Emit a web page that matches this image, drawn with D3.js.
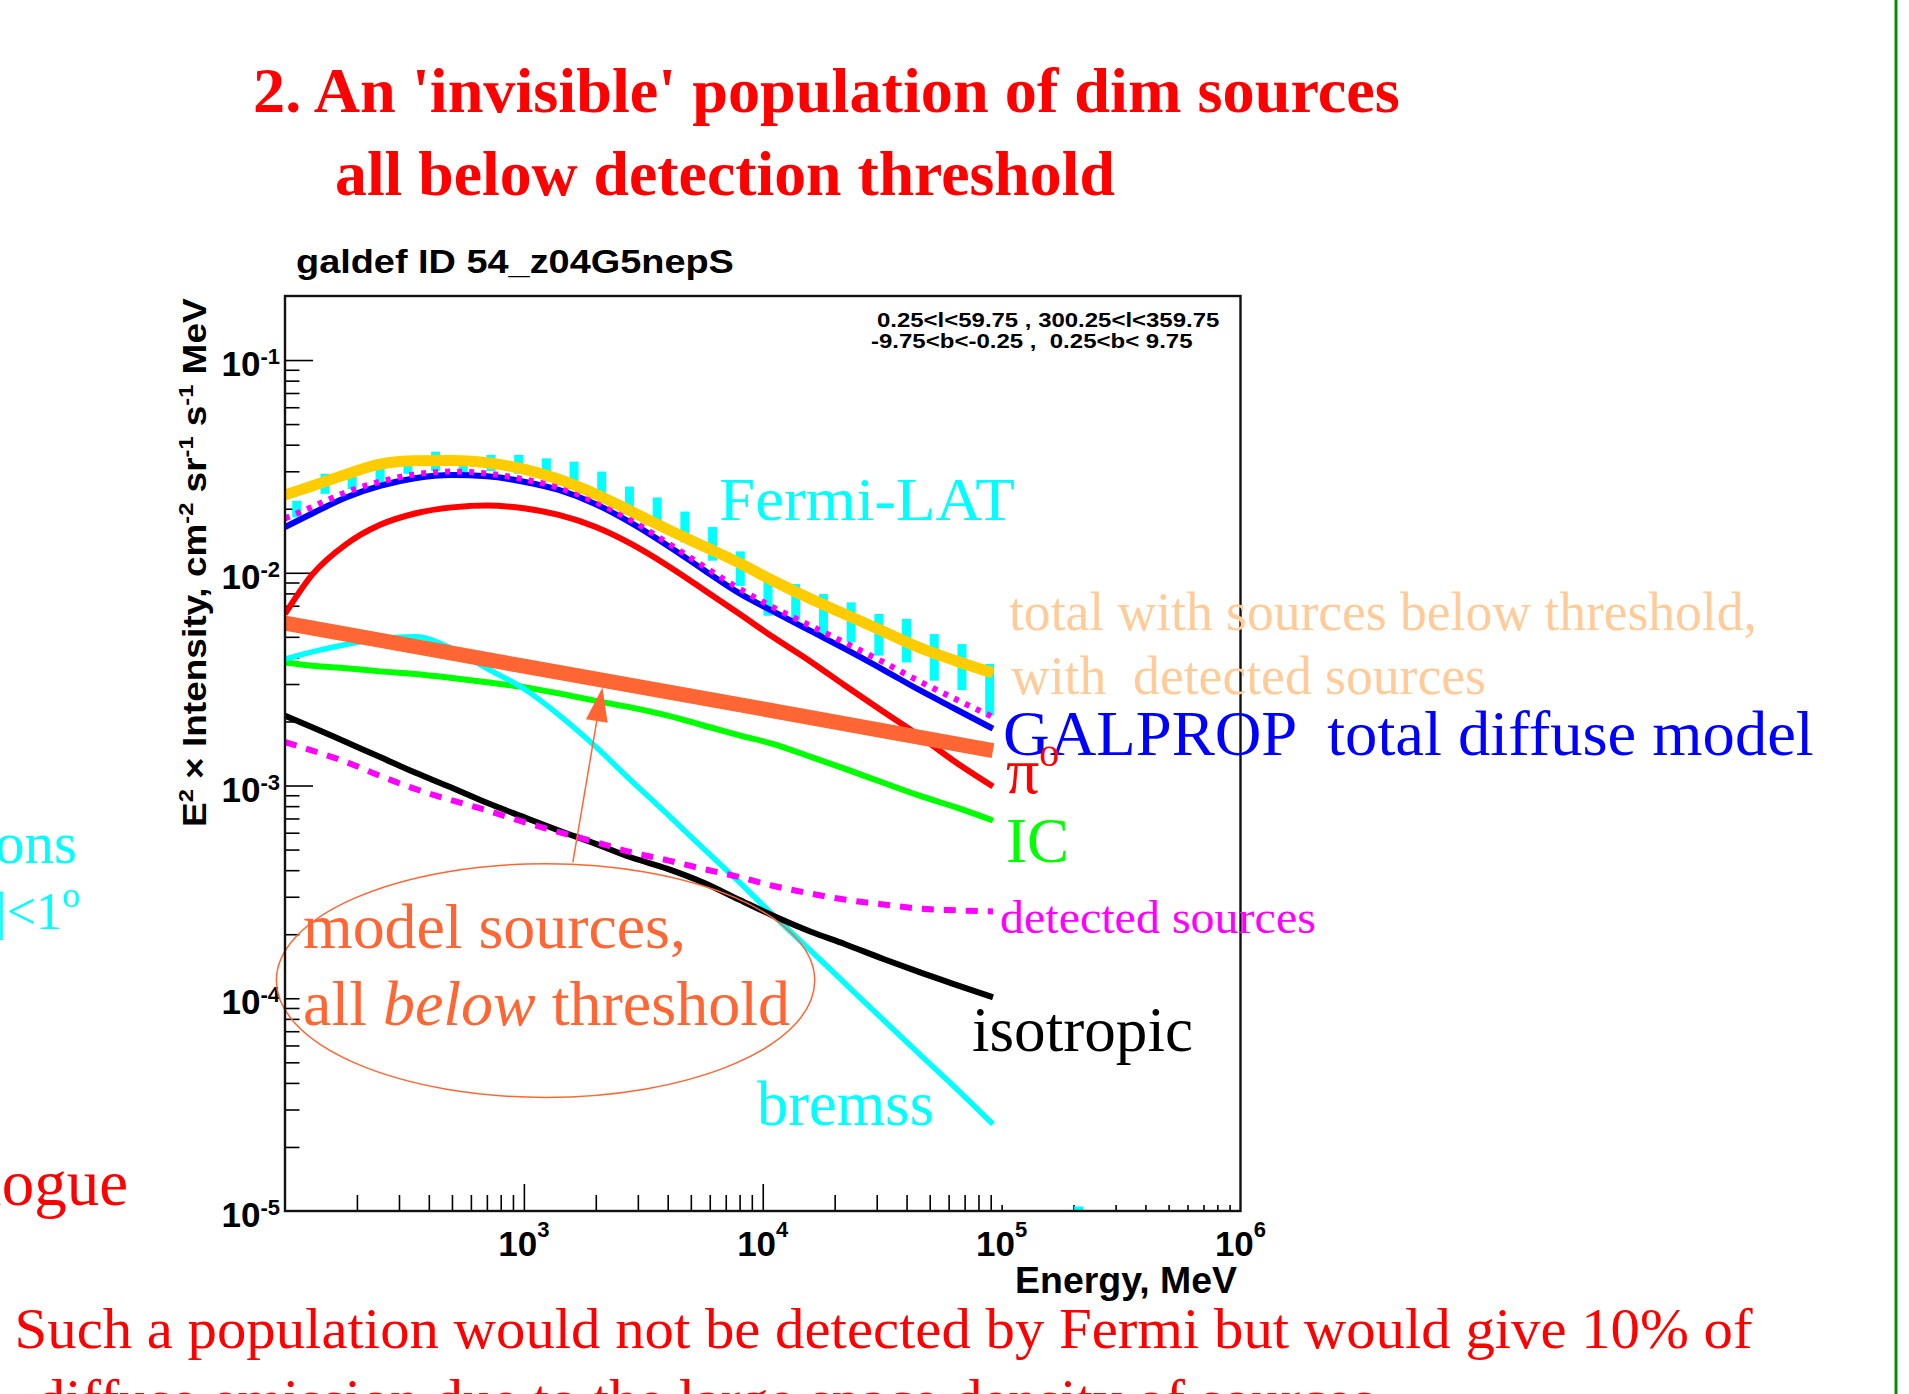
<!DOCTYPE html>
<html>
<head>
<meta charset="utf-8">
<title>galdef ID 54_z04G5nepS</title>
<script src="https://cdn.jsdelivr.net/npm/d3@7/dist/d3.min.js"></script>
<style>
  html, body { margin: 0; padding: 0; background: #ffffff; }
  svg { display: block; }
  text { white-space: pre; }
</style>
</head>
<body>
<svg id="slide" width="1909" height="1394"></svg>
<script>
// ---------------------------------------------------------------------------
// Spectra: E^2 x intensity (cm^-2 sr^-1 s^-1 MeV) versus energy (MeV)
// ---------------------------------------------------------------------------
const energies = [100, 130, 180, 250, 350, 500, 700, 1000, 1400, 2000, 2800,
                  4000, 5600, 8000, 11000, 16000, 22000, 32000, 45000, 64000, 92000];

// total with sources below threshold, with detected sources
const totalWithSources = [0.0232, 0.0256, 0.0290, 0.0324, 0.0336, 0.0337, 0.0329, 0.0307, 0.0275, 0.0234, 0.0195,
                          0.0160, 0.0134, 0.0111, 0.0092, 0.0075, 0.0064, 0.0053, 0.00446, 0.00386, 0.00338];
// GALPROP total plus detected sources
const totalWithDetected = [0.0180, 0.0204, 0.0239, 0.0268, 0.0290, 0.0299, 0.0293, 0.0275, 0.0251, 0.0215, 0.0177,
                           0.0138, 0.0108, 0.0084, 0.0069, 0.0056, 0.0047, 0.0038, 0.0031, 0.00255, 0.0021];
// GALPROP total diffuse model
const galpropTotal = [0.0164, 0.0190, 0.0226, 0.0256, 0.0278, 0.0288, 0.0284, 0.0268, 0.0245, 0.0210, 0.0172,
                      0.0134, 0.0104, 0.0080, 0.0066, 0.0053, 0.0044, 0.0035, 0.00282, 0.00229, 0.00185];
const pi0 = [0.0064, 0.0098, 0.0136, 0.0168, 0.0190, 0.0203, 0.0207, 0.0201, 0.0187, 0.0164, 0.0137,
             0.0108, 0.0084, 0.0064, 0.0050, 0.0038, 0.00296, 0.00222, 0.00172, 0.00129, 0.00099];
const inverseCompton = [0.00379, 0.00366, 0.00356, 0.00344, 0.00334, 0.00320, 0.00306, 0.00290, 0.00271, 0.00250, 0.00233,
                        0.00213, 0.00192, 0.00172, 0.00157, 0.00136, 0.00120, 0.00103, 0.000898, 0.000791, 0.000685];
const bremsstrahlung = [0.00393, 0.00425, 0.00460, 0.00490, 0.00500, 0.00440, 0.00355, 0.00285, 0.00215, 0.00152, 0.00106,
                        0.00073, 0.00051, 0.00035, 0.000247, 0.000166, 0.000118, 0.000079, 0.000055, 0.000038, 0.0000256];
const isotropic = [0.00213, 0.00188, 0.00160, 0.00136, 0.00115, 0.000975, 0.000829, 0.000710, 0.000615, 0.000532, 0.000460,
                   0.000406, 0.000351, 0.000290, 0.000245, 0.000205, 0.000180, 0.000153, 0.000133, 0.000116, 0.000101];
const detectedSources = [0.00160, 0.00146, 0.00129, 0.00111, 0.000964, 0.000851, 0.000764, 0.000673, 0.000604, 0.000542, 0.000486,
                         0.000445, 0.000406, 0.000371, 0.000338, 0.000310, 0.000291, 0.000276, 0.000264, 0.000259, 0.000256];

// unresolved model source population (a power law)
const modelSourceEnergies = [100, 1000, 10000, 92000];
const modelSources = [0.0058, 0.00364, 0.00229, 0.00146];

// Fermi-LAT spectrum: bin energies and error-bar limits
const fermiEnergies = [112, 147, 191, 250, 327, 427, 557, 728, 951, 1242, 1622, 2118, 2767, 3614, 4721, 6166,
                       8054, 10520, 13740, 17950, 23440, 30620, 39990, 52240, 68230, 89130, 210000];
const fermiLow  = [0.0182, 0.0235, 0.0247, 0.0265, 0.0292, 0.0301, 0.0281, 0.0301, 0.0292, 0.0275, 0.0251, 0.0222,
                   0.0189, 0.0169, 0.0139, 0.0114, 0.00868, 0.00628, 0.00595, 0.00515, 0.00471, 0.00408, 0.00379,
                   0.00311, 0.00281, 0.00213, 0.0000085];
const fermiHigh = [0.0218, 0.0292, 0.0300, 0.0320, 0.0351, 0.0371, 0.0340, 0.0358, 0.0358, 0.0345, 0.0333, 0.0299,
                   0.0254, 0.0226, 0.0194, 0.0164, 0.0126, 0.00950, 0.00885, 0.00794, 0.00726, 0.00640, 0.00607,
                   0.00515, 0.00462, 0.00373, 0.0000105];

// axis decades and their exponent labels
const xDecades = [1e3, 1e4, 1e5, 1e6];
const xExponents = ["3", "4", "5", "6"];
const yDecades = [1e-1, 1e-2, 1e-3, 1e-4, 1e-5];
const yExponents = ["-1", "-2", "-3", "-4", "-5"];

// ---------------------------------------------------------------------------
const W = 1909, H = 1394;
const SERIF = "'Liberation Serif','Times New Roman',Times,serif";
const SANS = "'Liberation Sans',Arial,Helvetica,sans-serif";
const plot = { left: 285, right: 1240.5, top: 296, bottom: 1211 };

const x = d3.scaleLog().domain([100, 1e6]).range([plot.left, plot.right]);
const y = d3.scaleLog().domain([1e-5, 0.2]).range([plot.bottom, plot.top]);

const svg = d3.select("#slide");
svg.append("rect").attr("width", W).attr("height", H).attr("fill", "#ffffff");

svg.append("defs").append("clipPath").attr("id", "plotClip")
  .append("rect")
  .attr("x", plot.left).attr("y", plot.top)
  .attr("width", plot.right - plot.left).attr("height", plot.bottom - plot.top);

// text helper: parts may carry superscripts / italics; optional width fits the run
function addText(parent, cfg) {
  const g = parent.append("g")
    .attr("transform", `translate(${cfg.x},${cfg.y})${cfg.rotate ? ` rotate(${cfg.rotate})` : ""}`);
  const t = g.append("text")
    .attr("font-family", cfg.family || SERIF)
    .attr("font-size", cfg.size)
    .attr("font-weight", cfg.weight || "normal")
    .attr("fill", cfg.fill || "#000")
    .attr("text-anchor", cfg.anchor || "start");
  const parts = typeof cfg.text === "string" ? [{ t: cfg.text }] : cfg.text;
  let shift = 0;
  parts.forEach(p => {
    const ts = t.append("tspan").text(p.t);
    const want = p.sup ? -(cfg.supRise ?? cfg.size * 0.4) : 0;
    if (want !== shift) { ts.attr("dy", want - shift); shift = want; }
    if (p.sup) ts.attr("font-size", cfg.supSize ?? cfg.size * 0.62);
    if (p.italic) ts.attr("font-style", "italic");
  });
  if (cfg.width) {
    const w = t.node().getBBox().width;
    if (w > 0) t.attr("transform", `scale(${cfg.width / w},1)`);
  }
  return t;
}

// ---------------------------------------------------------------------------
// slide headings
addText(svg, { x: 253, y: 112, size: 64, weight: "bold", fill: "#ff0000",
  text: "2. An 'invisible' population of dim sources", width: 1147 });
addText(svg, { x: 335, y: 195, size: 64, weight: "bold", fill: "#ff0000",
  text: "all below detection threshold", width: 780 });

// plot title and sky region
addText(svg, { x: 296, y: 273, size: 33, weight: "bold", family: SANS, text: "galdef ID 54_z04G5nepS", width: 438 });
addText(svg, { x: 877, y: 327, size: 21, weight: "bold", family: SANS,
  text: "0.25<l<59.75 , 300.25<l<359.75", width: 343 });
addText(svg, { x: 871, y: 348, size: 21, weight: "bold", family: SANS,
  text: "-9.75<b<-0.25 ,  0.25<b< 9.75", width: 322 });

// ---------------------------------------------------------------------------
// axes (ticks point into the frame)
function tickGroup(axis, transform) {
  svg.append("g").attr("transform", transform).call(axis)
    .call(g => g.select(".domain").remove())
    .call(g => g.selectAll("line").attr("stroke", "#000").attr("stroke-width", 1.6));
}
const yMinor = [];
for (let p = -5; p <= -1; p++) for (let m = 2; m <= 9; m++) { const v = m * Math.pow(10, p); if (v < 0.2) yMinor.push(v); }
tickGroup(d3.axisLeft(y).tickValues(yMinor.concat([1e-4])).tickSize(-14.5).tickSizeOuter(0).tickFormat(""),
  `translate(${plot.left},0)`);
tickGroup(d3.axisLeft(y).tickValues([1e-1, 1e-2, 1e-3]).tickSize(-28).tickSizeOuter(0).tickFormat(""),
  `translate(${plot.left},0)`);

const xMid = [], xShort = [];
for (let p = 2; p <= 4; p++) for (let m = 2; m <= 9; m++) xMid.push(m * Math.pow(10, p));
for (let m = 1; m <= 9; m++) xShort.push(m * 1e5);
tickGroup(d3.axisBottom(x).tickValues(xMid).tickSize(-16).tickSizeOuter(0).tickFormat(""),
  `translate(0,${plot.bottom})`);
tickGroup(d3.axisBottom(x).tickValues(xShort).tickSize(-6).tickSizeOuter(0).tickFormat(""),
  `translate(0,${plot.bottom})`);
tickGroup(d3.axisBottom(x).tickValues([1e3, 1e4]).tickSize(-27).tickSizeOuter(0).tickFormat(""),
  `translate(0,${plot.bottom})`);

// decade labels
yDecades.forEach((v, i) => addText(svg, {
  x: 280, y: y(v) + 16, size: 35, weight: "bold", family: SANS, anchor: "end",
  supSize: 22, supRise: 12, text: [{ t: "10" }, { t: yExponents[i], sup: true }]
}));
xDecades.forEach((v, i) => addText(svg, {
  x: x(v), y: 1256, size: 35, weight: "bold", family: SANS, anchor: "middle",
  supSize: 22, supRise: 19, text: [{ t: "10" }, { t: xExponents[i], sup: true }]
}));

// axis titles
addText(svg, { x: 1237, y: 1293, size: 36, weight: "bold", family: SANS, anchor: "end",
  text: "Energy, MeV", width: 222 });
addText(svg, { x: 206, y: 827, rotate: -90, size: 33, weight: "bold", family: SANS,
  supSize: 21, supRise: 13, width: 529,
  text: [{ t: "E" }, { t: "2", sup: true }, { t: " \u00d7 Intensity, cm" }, { t: "-2", sup: true },
         { t: " sr" }, { t: "-1", sup: true }, { t: " s" }, { t: "-1", sup: true }, { t: " MeV" }] });

// ---------------------------------------------------------------------------
// data marks
const plotG = svg.append("g").attr("clip-path", "url(#plotClip)");
const pairs = (es, vs) => es.map((e, i) => [e, vs[i]]);
const smooth = d3.line().x(d => x(d[0])).y(d => y(d[1])).curve(d3.curveMonotoneX);
const straight = d3.line().x(d => x(d[0])).y(d => y(d[1]));

// Fermi-LAT error bars
plotG.selectAll("rect.fermi")
  .data(fermiEnergies.map((e, i) => ({ e, lo: fermiLow[i], hi: fermiHigh[i] })))
  .join("rect").attr("class", "fermi")
  .attr("x", d => x(d.e) - 4.5).attr("width", 9)
  .attr("y", d => y(d.hi)).attr("height", d => y(d.lo) - y(d.hi))
  .attr("fill", "#00ffff");

function curve(values, color, width, dash) {
  plotG.append("path").datum(pairs(energies, values))
    .attr("d", smooth).attr("fill", "none")
    .attr("stroke", color).attr("stroke-width", width)
    .attr("stroke-linejoin", "round")
    .attr("stroke-dasharray", dash || null);
}
curve(inverseCompton, "#00ff00", 6);
curve(bremsstrahlung, "#00ffff", 5.5);
curve(pi0, "#ff0000", 6);
curve(isotropic, "#000000", 6);
curve(detectedSources, "#ff00ff", 6, "12 10");
curve(galpropTotal, "#0000ff", 6);
curve(totalWithDetected, "#ff00ff", 6, "5 7");
curve(totalWithSources, "#ffcc00", 11);

plotG.append("path").datum(pairs(modelSourceEnergies, modelSources))
  .attr("d", straight).attr("fill", "none")
  .attr("stroke", "#ff6633").attr("stroke-width", 15);

// ---------------------------------------------------------------------------
// annotation: ellipse around the source-population note, arrow to the band
const ORANGE = "#ff6633";
const ellipseE = [92, 16500], ellipseV = [3.42e-5, 4.29e-4];
svg.append("ellipse")
  .attr("cx", (x(ellipseE[0]) + x(ellipseE[1])) / 2)
  .attr("cy", (y(ellipseV[0]) + y(ellipseV[1])) / 2)
  .attr("rx", (x(ellipseE[1]) - x(ellipseE[0])) / 2)
  .attr("ry", (y(ellipseV[0]) - y(ellipseV[1])) / 2)
  .attr("fill", "none").attr("stroke", ORANGE).attr("stroke-width", 1.5);

const arrowTail = [1603, 4.35e-4], arrowTip = [2133, 2.89e-3];
{
  const x0 = x(arrowTail[0]), y0 = y(arrowTail[1]);
  const x1 = x(arrowTip[0]), y1 = y(arrowTip[1]);
  const len = Math.hypot(x1 - x0, y1 - y0), ux = (x1 - x0) / len, uy = (y1 - y0) / len;
  const headL = 34, headW = 11;
  const bx = x1 - ux * headL, by = y1 - uy * headL;
  svg.append("line").attr("x1", x0).attr("y1", y0).attr("x2", bx).attr("y2", by)
    .attr("stroke", ORANGE).attr("stroke-width", 1.5);
  svg.append("path")
    .attr("d", `M${x1},${y1}L${bx - uy * headW},${by + ux * headW}L${bx + uy * headW},${by - ux * headW}Z`)
    .attr("fill", ORANGE);
}

// frame
svg.append("rect")
  .attr("x", plot.left).attr("y", plot.top)
  .attr("width", plot.right - plot.left).attr("height", plot.bottom - plot.top)
  .attr("fill", "none").attr("stroke", "#111").attr("stroke-width", 2.4);

// ---------------------------------------------------------------------------
// component labels
addText(svg, { x: 719, y: 520, size: 62, fill: "#00ffff", text: "Fermi-LAT", width: 296 });
addText(svg, { x: 1009, y: 630, size: 54, fill: "#ffcc99", text: "total with sources below threshold,", width: 748 });
addText(svg, { x: 1011, y: 694, size: 54, fill: "#ffcc99", text: "with  detected sources", width: 475 });
addText(svg, { x: 1003, y: 755, size: 64, fill: "#0000ff", text: "GALPROP  total diffuse model", width: 811 });
addText(svg, { x: 1006, y: 793, size: 66, fill: "#ff0000", supSize: 40, supRise: 27,
  text: [{ t: "\u03c0" }, { t: "o", sup: true }] });
addText(svg, { x: 1006, y: 862, size: 64, fill: "#00ff00", text: "IC", width: 63 });
addText(svg, { x: 1000, y: 933, size: 47, fill: "#ff00ff", text: "detected sources", width: 316 });
addText(svg, { x: 972, y: 1051, size: 63, fill: "#000000", text: "isotropic", width: 221 });
addText(svg, { x: 757, y: 1125, size: 63, fill: "#00ffff", text: "bremss", width: 177 });
addText(svg, { x: 303, y: 948, size: 64, fill: ORANGE, text: "model sources,", width: 383 });
addText(svg, { x: 303, y: 1025, size: 64, fill: ORANGE, width: 487,
  text: [{ t: "all " }, { t: "below", italic: true }, { t: " threshold" }] });

// side notes running off the left edge
addText(svg, { x: 77, y: 863, size: 59, fill: "#00ffff", anchor: "end", text: "observations" });
addText(svg, { x: 80, y: 929, size: 52, fill: "#00ffff", anchor: "end", supSize: 36, supRise: 22,
  text: [{ t: "|b|<1" }, { t: "o", sup: true }] });
addText(svg, { x: 128, y: 1205, size: 65, fill: "#ff0000", anchor: "end", text: "catalogue" });

// conclusion
addText(svg, { x: 14.6, y: 1348, size: 58, fill: "#ff0000",
  text: "Such a population would not be detected by Fermi but would give 10% of", width: 1739 });
addText(svg, { x: 36, y: 1419, size: 58, fill: "#ff0000",
  text: "diffuse emission due to the large space density of sources", width: 1339 });

// slide border on the right
svg.append("line").attr("x1", 1896).attr("x2", 1896).attr("y1", 0).attr("y2", H)
  .attr("stroke", "#0a8a0a").attr("stroke-width", 3);
</script>
</body>
</html>
